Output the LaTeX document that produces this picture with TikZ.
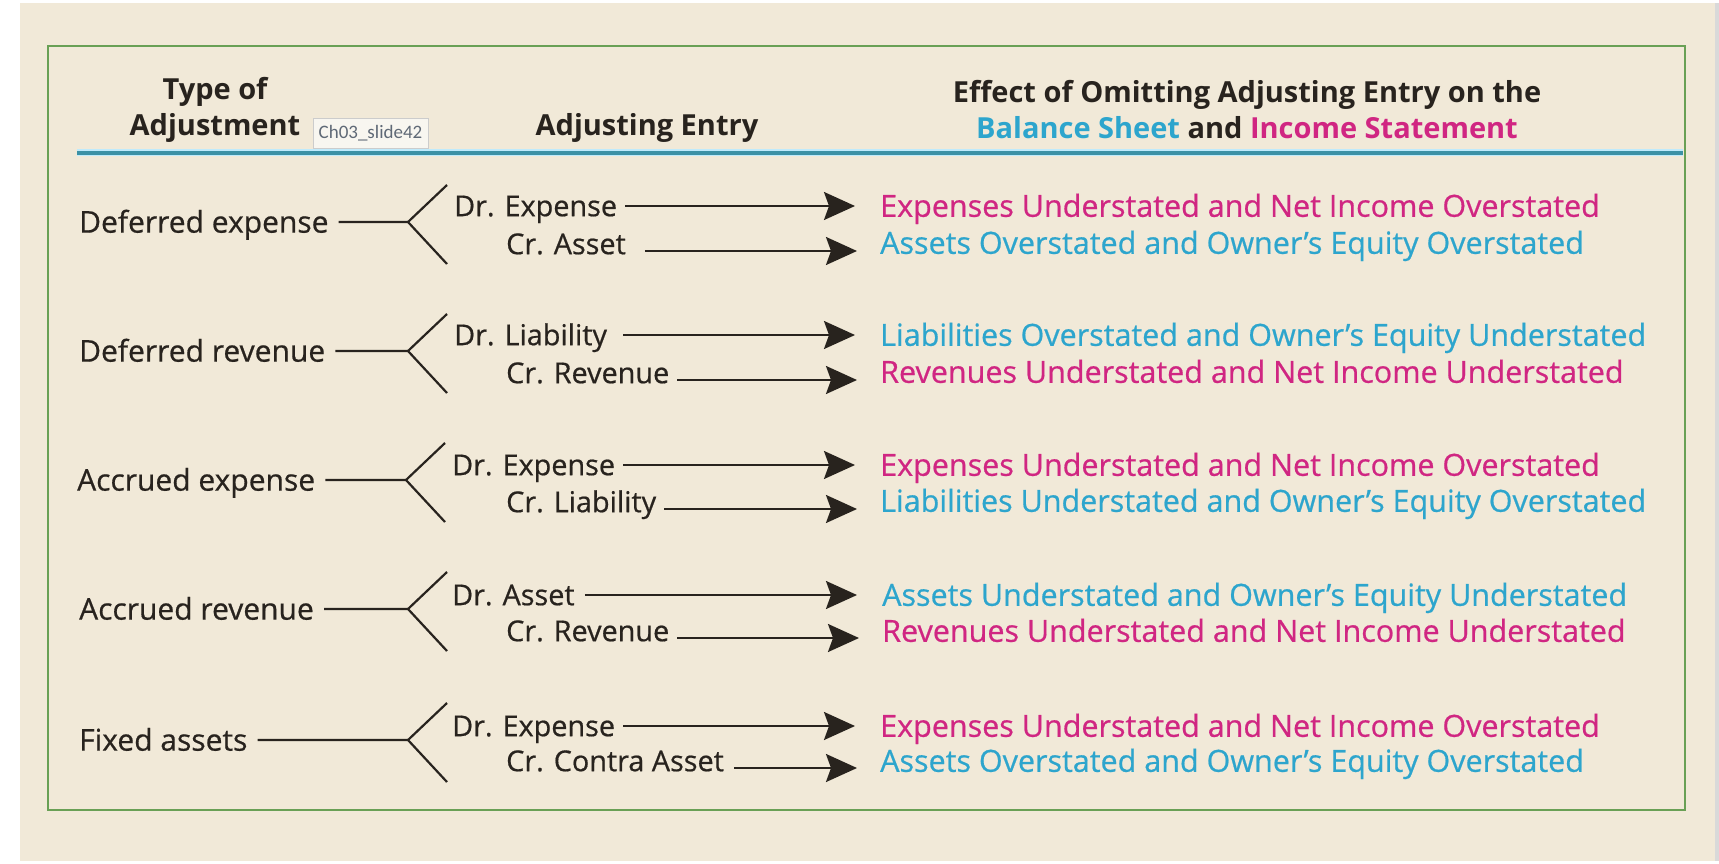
\documentclass[tikz,border=0pt]{standalone}
\usepackage{fontspec}
\setmainfont[FakeBold=0.6]{Open Sans}
\newfontfamily\headfont{Open Sans}
\newfontfamily\tipfont{Carlito}
\usetikzlibrary{arrows.meta}

\definecolor{paper}{RGB}{241,233,216}
\definecolor{ink}{RGB}{40,35,30}
\definecolor{isred}{RGB}{208,38,130}
\definecolor{bsblue}{RGB}{45,165,205}
\definecolor{boxgreen}{RGB}{105,160,85}
\definecolor{ruleteal}{RGB}{60,145,165}
\definecolor{tipgrey}{RGB}{95,105,118}

\begin{document}
\begin{tikzpicture}[x=1pt, y=-1pt,
    kind/.style={anchor=west, inner sep=0pt, text height=21.3pt, text depth=0pt,
        font=\fontsize{30}{36}\selectfont, text=ink},
    entry/.style={kind, text height=20.4pt, font=\fontsize{28.8}{34}\selectfont},
    effect/.style={kind, text height=21.6pt, font=\fontsize{30.5}{36}\selectfont},
    head/.style={align=center, inner sep=0pt, text=ink,
        font=\headfont\bfseries\fontsize{29}{36}\selectfont},
    fork/.style={line width=2.2pt, draw=ink},
    link/.style={line width=2.2pt, draw=ink, -{Stealth[length=31pt, width=28pt, inset=5pt]}},
    tip/.style={draw=black!20, fill={rgb,255:red,248;green,246;blue,240}, text=tipgrey,
        minimum width=115pt, minimum height=30pt, inner sep=0pt,
        font=\tipfont\fontsize{19}{22}\selectfont}]

    \useasboundingbox (0,0) rectangle (1719,864);
    \fill[white] (0,0) rectangle (1719,864);
    \fill[paper] (20,3) rectangle (1715,861);
    \fill[black!15] (1715,3) rectangle (1719,861);

    \draw[boxgreen, line width=2pt] (48,46) rectangle (1685,810);
    \draw[cyan!25, line width=7pt] (77,153) -- (1683,153);
    \draw[ruleteal, line width=3.5pt] (77,153) -- (1683,153);

    \node[head] (h1) at (215,110) {Type of\\Adjustment};
    \node[head] (h2) at (647,128) {Adjusting Entry};
    \node[head] (h3) at (1247,110) {Effect of Omitting Adjusting Entry on the\\
        \textcolor{bsblue}{Balance Sheet} and \textcolor{isred}{Income Statement}};
    \node[tip] (tip) at (370.5,133) {Ch03\_slide42};

    \node[kind] (t1) at (79,222) {Deferred expense};
    \coordinate (v1) at (408,222);
    \node[entry] (dr1) at (454,206) {Dr. Expense};
    \node[entry] (cr1) at (506,244) {Cr. Asset};
    \node[effect, text=isred] (ea1) at (880,206) {Expenses Understated and Net Income Overstated};
    \node[effect, text=bsblue] (eb1) at (880,243) {Assets Overstated and Owner’s Equity Overstated};
    \draw[fork] ([xshift=10pt]t1.east) -- (v1) -- +(39,-37) (v1) -- +(39,42);
    \draw[link] ([xshift=8pt]dr1.east) -- ([xshift=-25pt]ea1.west);
    \draw[link] ([xshift=19pt, yshift=-7pt]cr1.east) -- ([xshift=-23pt, yshift=-7pt]cr1.east -| eb1.west);

    \node[kind] (t2) at (79,351) {Deferred revenue};
    \coordinate (v2) at (408,351);
    \node[entry] (dr2) at (454,335) {Dr. Liability};
    \node[entry] (cr2) at (506,373) {Cr. Revenue};
    \node[effect, text=bsblue] (ea2) at (880,335) {Liabilities Overstated and Owner’s Equity Understated};
    \node[effect, text=isred] (eb2) at (880,372) {Revenues Understated and Net Income Understated};
    \draw[fork] ([xshift=10pt]t2.east) -- (v2) -- +(39,-37) (v2) -- +(39,42);
    \draw[link] ([xshift=16pt]dr2.east) -- ([xshift=-25pt]ea2.west);
    \draw[link] ([xshift=8pt, yshift=-7pt]cr2.east) -- ([xshift=-23pt, yshift=-7pt]cr2.east -| eb2.west);

    \node[kind] (t3) at (77,480) {Accrued expense};
    \coordinate (v3) at (406,480);
    \node[entry] (dr3) at (452,465) {Dr. Expense};
    \node[entry] (cr3) at (506,502) {Cr. Liability};
    \node[effect, text=isred] (ea3) at (880,465) {Expenses Understated and Net Income Overstated};
    \node[effect, text=bsblue] (eb3) at (880,501) {Liabilities Understated and Owner’s Equity Overstated};
    \draw[fork] ([xshift=10pt]t3.east) -- (v3) -- +(39,-37) (v3) -- +(39,42);
    \draw[link] ([xshift=8pt]dr3.east) -- ([xshift=-25pt]ea3.west);
    \draw[link] ([xshift=8pt, yshift=-7pt]cr3.east) -- ([xshift=-23pt, yshift=-7pt]cr3.east -| eb3.west);

    \node[kind] (t4) at (79,609) {Accrued revenue};
    \coordinate (v4) at (408,609);
    \node[entry] (dr4) at (452,595) {Dr. Asset};
    \node[entry] (cr4) at (506,631) {Cr. Revenue};
    \node[effect, text=bsblue] (ea4) at (882,595) {Assets Understated and Owner’s Equity Understated};
    \node[effect, text=isred] (eb4) at (882,631) {Revenues Understated and Net Income Understated};
    \draw[fork] ([xshift=10pt]t4.east) -- (v4) -- +(39,-37) (v4) -- +(39,42);
    \draw[link] ([xshift=10pt]dr4.east) -- ([xshift=-25pt]ea4.west);
    \draw[link] ([xshift=8pt, yshift=-7pt]cr4.east) -- ([xshift=-23pt, yshift=-7pt]cr4.east -| eb4.west);

    \node[kind] (t5) at (79,740) {Fixed assets};
    \coordinate (v5) at (408,740);
    \node[entry] (dr5) at (452,726) {Dr. Expense};
    \node[entry] (cr5) at (506,761) {Cr. Contra Asset};
    \node[effect, text=isred] (ea5) at (880,726) {Expenses Understated and Net Income Overstated};
    \node[effect, text=bsblue] (eb5) at (880,761) {Assets Overstated and Owner’s Equity Overstated};
    \draw[fork] ([xshift=10pt]t5.east) -- (v5) -- +(39,-37) (v5) -- +(39,42);
    \draw[link] ([xshift=8pt]dr5.east) -- ([xshift=-25pt]ea5.west);
    \draw[link] ([xshift=10pt, yshift=-7pt]cr5.east) -- ([xshift=-23pt, yshift=-7pt]cr5.east -| eb5.west);

\end{tikzpicture}
\end{document}
